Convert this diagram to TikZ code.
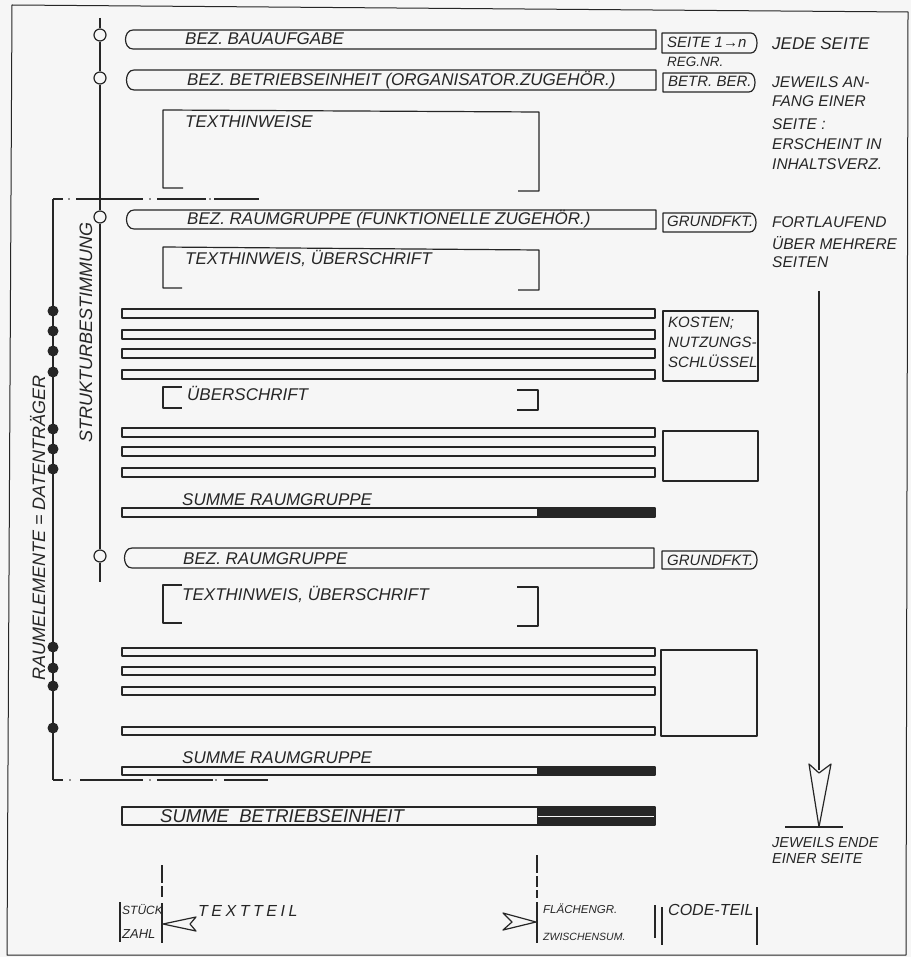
\documentclass[tikz,border=0pt]{standalone}
\usepackage{fontspec}
\setmainfont{Liberation Sans}
\definecolor{ink}{RGB}{38,38,38}
\definecolor{bg}{RGB}{246,246,246}
\newcommand\mypill[4]{\draw[ln] (#3,#2) -- (#1+8,#2) .. controls (#1-2,#2) and (#1-2,#4) .. (#1+8,#4) -- (#3,#4) -- cycle;}
\newcommand\myrbox[4]{\draw[ln] (#1,#2) -- (#3-7,#2) .. controls (#3+1,#2) and (#3+1,#4) .. (#3-7,#4) -- (#1,#4) -- cycle;}
\newcommand\mybar[2]{\draw[ln] (122,#1) rectangle (655,#2);}
\newcommand\mysum[2]{\draw[ln] (122,#1) rectangle (655,#2); \fill[ink] (537,#1) rectangle (655,#2);}
\begin{document}
\begin{tikzpicture}[x=1pt,y=-1pt,
  ln/.style={draw=ink,line width=1.2pt,line join=round},
  lab/.style={anchor=base west,inner sep=0pt,text=ink,font=\itshape\fontsize{17}{17}\selectfont},
  note/.style={lab,font=\itshape\fontsize{15.5}{16}\selectfont},
  boxt/.style={lab,font=\itshape\fontsize{15}{16}\selectfont},
  small/.style={lab,font=\itshape\fontsize{11.5}{12}\selectfont},
  fdot/.style={circle,fill=ink,inner sep=0pt,minimum size=11pt},
  odot/.style={circle,draw=ink,fill=bg,line width=1.2pt,inner sep=0pt,minimum size=12pt},
  head/.style={ln,fill=bg}
]
\useasboundingbox (0,0) rectangle (911,957);
\fill[bg] (0,0) rectangle (911,957);
% outer frame
\draw[ln,line width=1pt] (12,5) -- (908,12) -- (906,955) -- (7,955) -- cycle;

% ---- structure line with open circles
\coordinate (s0) at (100,18);
\coordinate (s5) at (100,582);
\node[odot] (c1) at (100,35) {};
\node[odot] (c2) at (100,78) {};
\node[odot] (c3) at (100,217) {};
\node[odot] (c4) at (100,556) {};
\draw[ln] (s0) -- (c1) -- (c2) -- (c3) -- (c4) -- (s5);

% ---- dash-dot group frame
\draw[ln] (53,199) -- (63,199) (76,199) -- (143,199) (157,199) -- (206,199) (214,199) -- (259,199);
\fill[ink] (69,199) circle (0.9pt) (150,199) circle (0.9pt) (210,199) circle (0.9pt);
\draw[ln] (53,780) -- (63,780) (80,780) -- (143,780) (157,780) -- (213,780) (224,780) -- (268,780);
\fill[ink] (70,780) circle (0.9pt) (150,780) circle (0.9pt) (216,780) circle (0.9pt);
\coordinate (L0) at (53,199);
\coordinate (L9) at (53,780);
\draw[ln] (L0) -- (L9);
\foreach \yy [count=\i] in {311,331,351,372,429,449,469,647,668,686,728}
  \node[fdot] (d\i) at (53,\yy) {};

% ---- rotated labels
\node[lab,font=\itshape\fontsize{18}{18}\selectfont,rotate=90] (rel) at (45,681) {RAUMELEMENTE = DATENTRÄGER};
\node[lab,font=\itshape\fontsize{18}{18}\selectfont,rotate=90] (stb) at (92,443) {STRUKTURBESTIMMUNG};

% ---- heading bars
\mypill{125}{30}{656}{49}
\mypill{126}{70}{656}{90}
\mypill{126}{210}{656}{229}
\mypill{124}{548}{654}{568}
\node[lab] (t1) at (185,45) {BEZ. BAUAUFGABE};
\node[lab] (t2) at (187,86) {BEZ. BETRIEBSEINHEIT (ORGANISATOR.ZUGEHÖR.)};
\node[lab] (t4) at (187,225) {BEZ. RAUMGRUPPE (FUNKTIONELLE ZUGEHÖR.)};
\node[lab] (t8) at (183,564) {BEZ. RAUMGRUPPE};

% ---- code boxes
\myrbox{662}{33}{758}{53}
\myrbox{663}{73}{756}{92}
\myrbox{663}{213}{757}{232}
\myrbox{662}{551}{758}{569}
\node[boxt] (b1) at (667,48) {SEITE 1→n};
\node[lab,font=\itshape\fontsize{13.5}{14}\selectfont] (reg) at (667,67) {REG.NR.};
\node[boxt] (b2) at (668,87) {BETR. BER.};
\node[boxt] (b3) at (667,227) {GRUNDFKT.};
\node[boxt] (b4) at (667,565) {GRUNDFKT.};
\draw[ln] (663,311) rectangle (758,381);
\node[boxt] (k1) at (668,327) {KOSTEN;};
\node[boxt] (k2) at (668,347) {NUTZUNGS-};
\node[boxt] (k3) at (668,367) {SCHLÜSSEL};
\draw[ln] (663,431) rectangle (758,481);
\draw[ln] (661,650) rectangle (757,736);

% ---- text brackets
\draw[ln] (183,188) -- (163,188) -- (163,110) -- (539,112) -- (539,191) -- (518,191);
\node[lab] (t3) at (185,128) {TEXTHINWEISE};
\draw[ln] (182,288) -- (163,288) -- (163,247) -- (539,250) -- (539,290) -- (518,290);
\node[lab] (t5) at (185,265) {TEXTHINWEIS, ÜBERSCHRIFT};
\draw[ln] (182,387) -- (163,387) -- (163,408) -- (182,408);
\draw[ln] (517,390) -- (538,390) -- (538,410) -- (517,410);
\node[lab] (t6) at (187,400) {ÜBERSCHRIFT};
\draw[ln] (182,585) -- (163,585) -- (163,623) -- (182,623);
\draw[ln] (517,587) -- (538,587) -- (538,626) -- (517,626);
\node[lab] (t9) at (182,600) {TEXTHINWEIS, ÜBERSCHRIFT};

% ---- element bars
\mybar{309}{318}
\mybar{330}{339}
\mybar{349}{358}
\mybar{370}{379}
\mybar{428}{437}
\mybar{447}{456}
\mybar{468}{477}
\mysum{508}{517}
\node[lab] (t7) at (182,505) {SUMME RAUMGRUPPE};
\mybar{648}{656}
\mybar{667}{675}
\mybar{687}{695}
\mybar{727}{735}
\mysum{767}{775}
\node[lab] (t10) at (182,763) {SUMME RAUMGRUPPE};
\draw[ln] (122,807) rectangle (655,825);
\fill[ink] (537,807) rectangle (655,825);
\draw[bg,line width=1.3pt] (538,816.5) -- (654,816.5);
\node[lab,font=\itshape\fontsize{18.5}{19}\selectfont] (t11) at (160,822) {SUMME\ \ BETRIEBSEINHEIT};

% ---- right notes
\node[lab] (n1) at (772,50) {JEDE SEITE};
\node[note] (n2) at (772,88) {JEWEILS AN-};
\node[note] (n3) at (772,107) {FANG EINER};
\node[note] (n4) at (772,130) {SEITE :};
\node[note] (n5) at (772,150) {ERSCHEINT IN};
\node[note] (n6) at (772,170) {INHALTSVERZ.};
\node[note] (n7) at (772,228) {FORTLAUFEND};
\node[note] (n8) at (772,250) {ÜBER MEHRERE};
\node[note] (n9) at (772,268) {SEITEN};
\coordinate (a0) at (819,291);
\coordinate (a1) at (819,770);
\draw[ln] (a0) -- (a1);
\draw[head] (809,764) -- (819,773) -- (831,764) -- (819,827) -- cycle;
\coordinate (e0) at (785,827);
\coordinate (e1) at (843,827);
\draw[ln] (e0) -- (e1);
\node[lab,font=\itshape\fontsize{14.5}{15}\selectfont] (n10) at (772,847) {JEWEILS ENDE};
\node[lab,font=\itshape\fontsize{14.5}{15}\selectfont] (n11) at (772,863) {EINER SEITE};

% ---- bottom legend
\draw[ln] (162,865) -- (162,883) (162,886) -- (162,897) (162,903) -- (162,943);
\draw[ln] (120,902) -- (120,942);
\node[small,font=\itshape\fontsize{12}{12}\selectfont] (st) at (122,914) {STÜCK};
\node[small,font=\itshape\fontsize{13}{13}\selectfont] (za) at (122,938) {ZAHL};
\draw[head] (163,924) -- (196,917) -- (190,924) -- (196,931) -- cycle;
\node[lab,font=\itshape\fontsize{16}{16}\selectfont\addfontfeature{LetterSpace=22}] (tt) at (198,916) {TEXTTEIL};
\draw[ln] (537,855) -- (537,873) (537,876) -- (537,887) (537,890) -- (537,898) (537,902) -- (537,943);
\draw[head] (503,913) -- (536,922) -- (503,930) -- (512,922) -- cycle;
\node[small] (fl) at (543,913) {FLÄCHENGR.};
\node[small,font=\itshape\fontsize{10.5}{11}\selectfont] (zw) at (543,940) {ZWISCHENSUM.};
\draw[ln] (655,905) -- (655,938);
\draw[ln] (662,907) -- (662,945);
\draw[ln] (757,907) -- (757,945);
\node[lab,font=\itshape\fontsize{16}{16}\selectfont] (ct) at (668,915) {CODE-TEIL};
\end{tikzpicture}
\end{document}
